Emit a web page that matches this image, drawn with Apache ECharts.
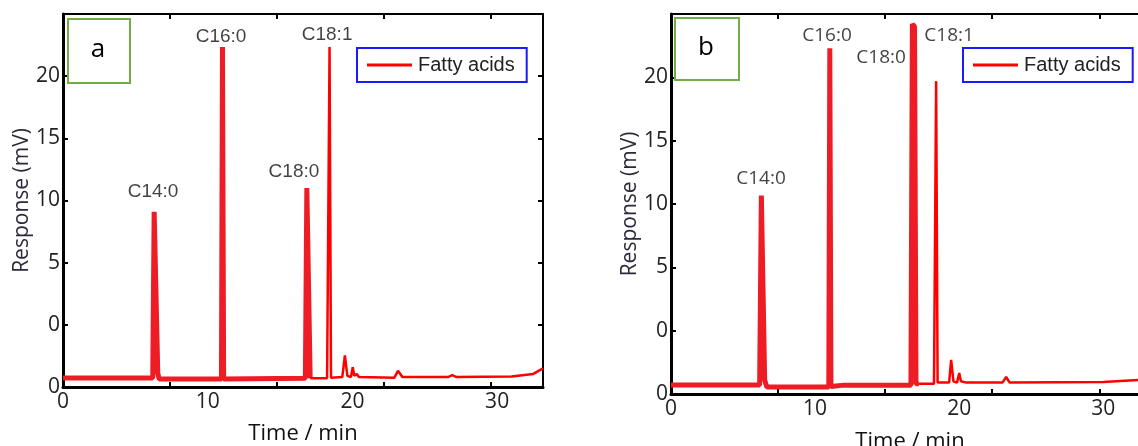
<!DOCTYPE html>
<html><head><meta charset="utf-8">
<script src="https://cdn.jsdelivr.net/npm/echarts@6/dist/echarts.min.js"></script>
<style>html,body{margin:0;padding:0;background:#fff}#c{width:1138px;height:446px}</style>
</head><body><div id="c"></div>
<script>
const seriesName = 'Fatty acids';
const xTickLabels = [0, 10, 20, 30];
const yTickLabels = ['0', '0', '5', '10', '15', '20']; // printed labels for -5,0,5,10,15,20
// panel a: first part (thick trace) and second part (thin trace)
const traceA1 = [[0,-4.28],[6.2,-4.28],[6.3,9.1],[6.42,9.0],[6.55,-3.9],[6.65,-4.36],[10.95,-4.36],[11.02,22.35],[11.1,-4.36],[13,-4.33],[16.75,-4.3],[16.85,11.0],[16.98,10.9],[17.08,-4.3]];
const traceA2 = [[17.08,-4.3],[18.25,-4.3],[18.42,22.35],[18.52,-4.25],[19.3,-4.2],[19.48,-2.45],[19.65,-4.1],[19.9,-4.2],[20.02,-3.4],[20.13,-4.1],[20.3,-3.95],[20.45,-4.2],[22.9,-4.25],[23.15,-3.7],[23.45,-4.2],[26.6,-4.2],[26.9,-4.05],[27.2,-4.2],[31,-4.15],[32.5,-3.95],[33.17,-3.5]];
const peakNamesA = ['C14:0','C16:0','C18:0','C18:1'];
const peakLabelPosA = [[6.22,10.7],[10.92,23.16],[15.96,12.3],[18.25,23.3]];
// panel b
const traceB1 = [[0,-4.29],[6.15,-4.29],[6.27,10.67],[6.36,10.6],[6.5,-3.9],[6.65,-4.45],[10.95,-4.45],[11.02,22.3],[11.1,-4.4],[12,-4.3],[16.65,-4.3],[16.75,24.2],[16.9,24.0],[17.0,-4.2],[17.2,-4.2]];
const traceB2 = [[17.2,-4.2],[18.25,-4.2],[18.4,19.7],[18.5,-4.1],[19.3,-4.1],[19.44,-2.3],[19.6,-4.0],[19.85,-4.1],[20.0,-3.35],[20.12,-4.0],[20.5,-4.1],[23.0,-4.1],[23.26,-3.66],[23.5,-4.1],[30,-4.05],[33.17,-3.85]];
const peakNamesB = ['C14:0','C16:0','C18:0','C18:1'];
const peakLabelPosB = [[6.25,12.0],[10.83,23.27],[14.58,21.54],[19.3,23.27]];
const panelNames = ['a','b'];

// ---- chart ----
const X_MAX = 33.17;
const Y_MIN = -5, Y_MAX = 25;
const axisFont = 'Open Sans';
function yLabel(v){ const i = Math.round((v - Y_MIN) / 5); return i < yTickLabels.length ? yTickLabels[i] : ''; }

const grids = [{left:63, top:14, width:480, height:373, outerBoundsMode:'none', containLabel:false},
               {left:671, top:14, width:478, height:380, outerBoundsMode:'none', containLabel:false}];
const tickStep = [7.39, 7.43];
const xAxis = [], yAxis = [];
grids.forEach((g, i) => {
  xAxis.push({gridIndex:i, type:'value', min:0, max:X_MAX, interval:10, position:'bottom',
    axisLine:{onZero:false, lineStyle:{color:'#000', width:3}}, axisTick:{show:false}, splitLine:{show:false},
    axisLabel:{fontSize:21, color:'#222', fontFamily:axisFont, margin:5, showMaxLabel:false,
      formatter: v => xTickLabels.includes(v) ? String(v) : ''},
    name:'Time / min', nameLocation:'middle', nameGap: i===0 ? 36 : 37,
    nameTextStyle:{fontSize:22, color:'#111', fontFamily:axisFont}});
  xAxis.push({gridIndex:i, type:'value', min:0, max:X_MAX, interval:tickStep[i], position:'bottom',
    axisLine:{show:false, onZero:false}, axisTick:{inside:true, length:5, lineStyle:{color:'#000', width:2}},
    axisLabel:{show:false}, splitLine:{show:false}});
  xAxis.push({gridIndex:i, type:'value', min:0, max:X_MAX, interval:tickStep[i], position:'top',
    axisLine:{onZero:false, lineStyle:{color:'#000', width:2}}, axisTick:{inside:true, length:5, lineStyle:{color:'#000', width:2}},
    axisLabel:{show:false}, splitLine:{show:false}});
  yAxis.push({gridIndex:i, type:'value', min:Y_MIN, max:Y_MAX, interval:5, position:'left',
    axisLine:{onZero:false, lineStyle:{color:'#000', width:3}}, axisTick:{inside:true, length:5, lineStyle:{color:'#000', width:2}},
    splitLine:{show:false},
    axisLabel:{fontSize:21, color:'#222', fontFamily:axisFont, margin:3, formatter:yLabel},
    name:'Response (mV)', nameLocation:'middle', nameGap:29,
    nameTextStyle:{fontSize:21, color:'#2a2a3a', fontFamily:axisFont}});
  yAxis.push({gridIndex:i, type:'value', min:Y_MIN, max:Y_MAX, interval:5, position:'right',
    axisLine:{onZero:false, lineStyle:{color:'#000', width:2}}, axisTick:{inside:true, length:5, lineStyle:{color:'#000', width:2}},
    axisLabel:{show:false}, splitLine:{show:false}});
});

function lineSeries(data, panel, width, color){
  return {type:'line', name:seriesName, xAxisIndex:panel*3, yAxisIndex:panel*2, data:data,
    showSymbol:false, symbol:'none', lineStyle:{width:width, color:color}, itemStyle:{color:'#ff0000'},
    animation:false, z:3};
}
function labelSeries(pos, names, panel, font, size){
  return {type:'scatter', name:'labels'+panel, xAxisIndex:panel*3, yAxisIndex:panel*2,
    data: pos.map((p, k) => [p[0], p[1], names[k]]), symbolSize:0, silent:true, animation:false,
    label:{show:true, position:'inside', formatter: p => p.data[2], fontSize:size, color:'#111', fontFamily:font}};
}

const legendBase = {data:[seriesName], orient:'horizontal', icon:'rect', itemWidth:45, itemHeight:3,
  borderColor:'#1a1aff', borderWidth:2, padding:[7,12,7,10], itemGap:0,
  textStyle:{fontSize:20, color:'#222', fontFamily:'Liberation Sans', padding:[0,0,0,1]}};

const graphic = [];
[[67,18,62,64],[674,17,64,62]].forEach((r, i) => {
  graphic.push({type:'rect', left:r[0], top:r[1], shape:{width:r[2], height:r[3]},
    style:{fill:'#fff', stroke:'#70ad47', lineWidth:2}, z:10});
  graphic.push({type:'text', x:r[0]+r[2]/2, y:r[1]+r[3]/2, style:{text:panelNames[i], fontSize:26,
    fontFamily:axisFont, fill:'#000', align:'center', verticalAlign:'middle'}, z:11});
});

const option = {
  backgroundColor:'#fff', animation:false,
  grid: grids, xAxis: xAxis, yAxis: yAxis,
  legend: [Object.assign({left:357, top:48}, legendBase), Object.assign({left:963, top:48}, legendBase)],
  series: [
    lineSeries(traceA1, 0, 5, '#ee1c25'), lineSeries(traceA2, 0, 2.5, '#ff0000'),
    lineSeries(traceB1, 1, 5, '#ee1c25'), lineSeries(traceB2, 1, 2.5, '#ff0000'),
    labelSeries(peakLabelPosA, peakNamesA, 0, 'Liberation Sans', 19),
    labelSeries(peakLabelPosB, peakNamesB, 1, axisFont, 19)
  ],
  graphic: graphic
};
const chart = echarts.init(document.getElementById('c'));
chart.setOption(option);
</script></body></html>
